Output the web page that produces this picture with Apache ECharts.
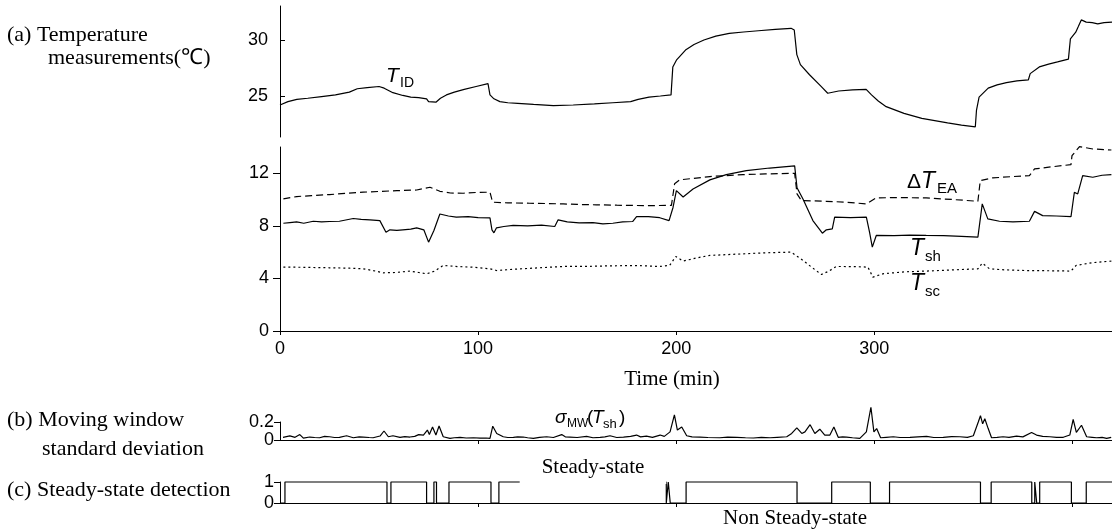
<!DOCTYPE html>
<html><head><meta charset="utf-8">
<script src="https://cdn.jsdelivr.net/npm/echarts@6/dist/echarts.min.js"></script>
<style>html,body{margin:0;padding:0;background:#fff}#c{width:1112px;height:532px}</style>
</head><body><div id="c"></div>
<script>
// ---- data: [time (min), value] ----
const tID = [[0,24.2],[1,24.3],[4,24.5],[8.5,24.7],[14,24.8],[21,24.95],[28,25.1],[35,25.35],[39,25.65],[44,25.75],[50,25.85],[52.6,25.7],[57,25.3],[62,25.05],[66,24.9],[70,24.85],[74,24.75],[75,24.5],[78.7,24.45],[81,24.8],[84,25.1],[88,25.35],[93,25.6],[99,25.85],[105,26.1],[106,25.1],[108,24.75],[111,24.5],[115,24.4],[120,24.35],[128,24.25],[138,24.15],[148,24.2],[158.7,24.3],[168,24.4],[177,24.5],[180.8,24.7],[186.3,24.9],[192,25.0],[197.4,25.1],[198.3,27.6],[200.1,28.2],[204.7,29.1],[209,29.6],[214,30.0],[220,30.35],[226.8,30.6],[234,30.72],[241.5,30.83],[250,30.95],[258,31.05],[259.6,30.9],[260.9,28.7],[262.7,27.8],[267.3,26.9],[272.9,25.9],[276.5,25.25],[282,25.45],[289,25.55],[295.9,25.6],[298.6,25.1],[302,24.55],[306,24.05],[315,23.45],[324,23.0],[337,22.6],[344,22.4],[351,22.25],[351.6,23.75],[352.9,24.9],[357.5,25.7],[362,26.0],[366.7,26.2],[372,26.35],[377.8,26.45],[378.7,27.0],[383.3,27.6],[388,27.85],[392.5,28.05],[398,28.3],[399,30.1],[401.7,30.7],[403,31.2],[404.5,31.8],[407,31.6],[410,31.55],[412.8,31.45],[416,31.55],[420,31.6]];
const tSH = [[1.7,8.2],[5,8.25],[8.4,8.3],[12,8.2],[16.8,8.35],[21,8.3],[25,8.33],[30,8.35],[37,8.56],[41,8.5],[45.4,8.46],[50.4,8.4],[53.5,7.52],[55.5,7.7],[59,7.65],[62,7.7],[66,7.75],[69,7.85],[72.6,7.7],[75,6.76],[77.7,7.65],[80.7,8.9],[85,8.75],[89,8.66],[95,8.7],[100,8.62],[106,8.6],[107,7.7],[108,7.47],[109.3,7.85],[113,7.95],[117.7,8.03],[125,8.0],[132,8.05],[138.7,7.95],[140.4,8.46],[145,8.3],[151,8.23],[158,8.25],[163,8.15],[168,8.2],[173,8.3],[178,8.33],[180,8.7],[186,8.7],[191.7,8.62],[196.4,8.4],[198.4,9.4],[200.1,10.68],[203.5,10.2],[208.5,10.8],[217,11.5],[225.3,11.9],[235.4,12.2],[247.2,12.4],[259.8,12.56],[261,10.9],[264,10.05],[269,8.4],[273.8,7.44],[275.8,7.7],[278.8,7.77],[280,8.66],[288,8.62],[296,8.66],[297.6,7.52],[299,6.38],[301,7.27],[310,7.25],[318,7.3],[326.2,7.27],[335,7.25],[344,7.2],[352.3,7.14],[354.5,9.67],[357.3,8.53],[363.2,8.35],[370,8.3],[378.3,8.35],[380.9,9.1],[385,8.78],[392,8.75],[399.3,8.7],[401,10.56],[402.7,10.43],[405.2,11.82],[410.3,11.7],[415,11.85],[419.7,11.9]];
const dTEA = [[1.7,10.05],[8.4,10.23],[16,10.3],[25,10.38],[34,10.48],[42,10.56],[50,10.62],[59,10.68],[69,10.73],[75.7,10.94],[80.7,10.63],[86,10.5],[92.5,10.48],[100,10.55],[106,10.56],[107.3,9.8],[115,9.75],[126,9.72],[135,9.7],[143,9.67],[150,9.63],[159.7,9.6],[170,9.57],[185,9.54],[197.6,9.56],[199.2,11.2],[201.8,11.5],[217,11.75],[233.7,11.9],[245,11.95],[259.8,12.0],[261,10.43],[263.2,9.92],[275.8,9.87],[286,9.8],[296,9.67],[301,10.13],[312,10.15],[326.2,10.13],[340,10.0],[352.3,9.87],[353.5,11.44],[359.8,11.65],[370,11.75],[378.3,11.82],[380.9,12.33],[390,12.5],[399.3,12.66],[399.8,13.34],[403.6,14.03],[410.3,13.85],[419.7,13.77]];
const tSC = [[1.7,4.86],[10,4.85],[25,4.81],[35,4.78],[42,4.73],[47,4.6],[52,4.43],[58,4.45],[65.6,4.56],[70,4.45],[74,4.35],[78,4.55],[82.4,4.99],[90,4.9],[98,4.85],[106,4.73],[109.3,4.6],[118,4.7],[130,4.8],[143,4.91],[155,4.92],[168,4.96],[180,4.98],[191.7,4.91],[196.7,4.99],[199.8,5.67],[203.5,5.32],[210,5.55],[217,5.75],[233.7,5.87],[245,5.95],[258,6.0],[264,5.37],[268,4.9],[273.3,4.3],[277,4.55],[280.8,4.91],[290,4.9],[296.8,4.86],[299.3,4.1],[304.3,4.35],[315,4.5],[326.2,4.56],[340,4.65],[352.3,4.73],[354.5,5.16],[358.2,4.73],[366,4.65],[376.6,4.6],[390,4.58],[399.3,4.56],[401.9,4.99],[410,5.2],[419.7,5.32]];
const sigmaMW = [[1.5,0.03],[2.5,0.03],[5,0.045],[7.6,0.03],[10,0.06],[11.8,0.02],[15,0.033],[17.5,0.028],[20,0.025],[22.5,0.04],[25,0.036],[27.5,0.028],[30,0.03],[33.6,0.047],[37,0.025],[40,0.035],[42,0.033],[45,0.028],[47,0.025],[50.5,0.044],[52.5,0.1],[54.7,0.036],[57,0.047],[60.6,0.03],[63,0.038],[65.6,0.033],[68,0.04],[70,0.06],[72.4,0.055],[74.4,0.11],[75.4,0.06],[77,0.145],[78.7,0.055],[80.3,0.156],[82.4,0.036],[85.8,0.018],[88,0.025],[90.9,0.03],[94,0.022],[97.6,0.025],[101,0.02],[104,0.022],[106,0.018],[107.4,0.153],[109.4,0.073],[112.7,0.036],[115,0.028],[117.8,0.03],[120,0.035],[122.8,0.033],[125,0.025],[127.9,0.018],[131,0.03],[134.6,0.036],[138,0.028],[142.2,0.06],[144,0.035],[146.4,0.033],[150,0.028],[154.8,0.04],[158,0.025],[161.6,0.03],[164,0.035],[166.6,0.047],[170,0.028],[173.4,0.033],[177,0.04],[180,0.055],[182,0.035],[185,0.044],[188,0.03],[191.9,0.055],[194,0.04],[196.9,0.09],[199.1,0.28],[200.6,0.11],[202.8,0.145],[205.3,0.047],[208,0.035],[212,0.033],[216,0.028],[222,0.025],[226,0.032],[230.6,0.03],[235,0.025],[239,0.022],[243,0.03],[247.4,0.025],[251,0.03],[255.8,0.036],[258.3,0.073],[260.9,0.135],[263.4,0.073],[265,0.09],[267.6,0.17],[270,0.073],[272.5,0.12],[275,0.055],[277.6,0.055],[279.6,0.145],[281.8,0.03],[284,0.035],[286,0.033],[289,0.025],[292.7,0.018],[296,0.09],[298.3,0.364],[299.8,0.09],[301.2,0.127],[303.2,0.025],[306,0.03],[309.6,0.036],[313,0.028],[318,0.03],[322,0.035],[326.4,0.04],[330,0.028],[334.8,0.03],[339,0.038],[343.2,0.036],[347,0.03],[350,0.047],[352.5,0.2],[353.6,0.27],[354.7,0.18],[355.8,0.236],[357.5,0.127],[359.2,0.025],[362,0.03],[365,0.036],[368,0.03],[371.8,0.044],[375,0.035],[379.4,0.084],[381.9,0.055],[385,0.04],[388.6,0.036],[392,0.03],[395.4,0.03],[398.7,0.055],[400.4,0.23],[402,0.084],[404.6,0.164],[407.2,0.036],[410,0.03],[412.2,0.025],[415,0.03],[417.3,0.018],[419.6,0.03]];
// steady-state flag: [time where state begins, state]
const steady = [[0,0],[2.5,1],[54,0],[56,1],[74,0],[77.7,1],[79,0],[85.3,1],[106.5,0],[110.5,1],[195,0],[196,1],[197,0],[205,1],[261,0],[278.5,1],[298,0],[307.7,1],[353.6,0],[359,1],[379.5,0],[381,1],[382,0],[383.5,1],[399.5,0],[407,1],[420,1]];
const xTicks = [0,100,200,300,400];
const sigXTicks = [100,200,300,400];
const ssXTicks = [100,200,400];
const tidTicks = [25,30];
const midTicks = [0,4,8,12];
const sigTicks = [0,0.2];
const ssTicks = [0,1];

const SANS='"Liberation Sans", Arial, sans-serif';
const SERIF='"Liberation Serif", "Times New Roman", serif';
const BLACK='#000';

function xAx(gi, show, ticks, labels){
  return {gridIndex:gi, type:'value', min:0, max:420, show:show,
    axisLine:{show:true,onZero:false,lineStyle:{color:BLACK,width:1}},
    axisTick:{show:!!ticks,inside:false,length:4,customValues:ticks||[],lineStyle:{color:BLACK,width:1}},
    axisLabel:{show:!!labels,customValues:labels||[],margin:9,color:BLACK,fontSize:18,fontFamily:SANS,showMaxLabel:false},
    splitLine:{show:false}};
}
function yAx(gi,min,max,ticks,inside,len,margin,fmt){
  return {gridIndex:gi,type:'value',min:min,max:max,
    axisLine:{show:true,onZero:false,lineStyle:{color:BLACK,width:1}},
    axisTick:{show:true,inside:inside,length:len,customValues:ticks,lineStyle:{color:BLACK,width:1}},
    axisLabel:{show:true,customValues:ticks,margin:margin,color:BLACK,fontSize:18,fontFamily:SANS,formatter:fmt||(v=>String(v))},
    splitLine:{show:false}};
}
function line(data,xi,type,extra){
  return Object.assign({type:'line',data:data,xAxisIndex:xi,yAxisIndex:xi,symbol:'none',showSymbol:false,
    lineStyle:{color:BLACK,width:1.2,type:type||'solid'},silent:true,clip:false,animation:false},extra||{});
}
function txt(x,y,s,font,extra){
  return Object.assign({type:'text',x:x,y:y,z:100,style:Object.assign({text:s,font:font,fill:BLACK,
    align:'left',verticalAlign:'middle',textAlign:'left',textVerticalAlign:'middle'},extra||{})});
}
const ital = (n)=>'italic '+n+'px '+SANS;
const sans = (n)=>n+'px '+SANS;
const serif = (n)=>n+'px '+SERIF;

const option = {
  animation:false,
  backgroundColor:'#fff',
  grid:[
    {left:280,right:0,top:6,height:131},
    {left:280,right:0,top:147,height:184},
    {left:280,right:0,top:422,height:18},
    {left:280,right:0,top:482,height:21}
  ],
  xAxis:[xAx(0,false,null,null), xAx(1,true,xTicks,xTicks), xAx(2,true,sigXTicks,null), xAx(3,true,ssXTicks,null)],
  yAxis:[
    yAx(0,21.34,33.04,tidTicks,true,5,12),
    yAx(1,0,14,midTicks,false,7,11),
    yAx(2,0,0.2,sigTicks,false,6,6),
    yAx(3,0,1,ssTicks,false,6,6)
  ],
  series:[
    line(tID,0),
    line(dTEA,1,[7,4]),
    line(tSH,1),
    line(tSC,1,[2,3]),
    line(sigmaMW,2),
    line(steady,3,'solid',{step:'end'})
  ],
  graphic:[
    txt(7,35,'(a) Temperature',serif(22)),
    txt(48,58,'measurements(℃)',serif(22)),
    txt(7,420,'(b) Moving window',serif(22)),
    txt(42,449,'standard deviation',serif(22)),
    txt(7,490,'(c) Steady-state detection',serif(22)),
    txt(672,379,'Time (min)',serif(21),{align:'center',textAlign:'center'}),
    txt(593,467,'Steady-state',serif(21),{align:'center',textAlign:'center',backgroundColor:'#fff',padding:[4,22,9,22]}),
    txt(795,518,'Non Steady-state',serif(21),{align:'center',textAlign:'center'}),
    // T_ID
    txt(386,76,'T',ital(21)), txt(400,83,'ID',sans(14)),
    // ΔT_EA
    txt(907,182,'Δ',sans(21)), txt(921,182,'T',ital(23)), txt(937,189,'EA',sans(15)),
    // T_sh
    txt(910,249,'T',ital(23)), txt(925,257,'sh',sans(15)),
    // T_sc
    txt(910,284,'T',ital(23)), txt(925,292,'sc',sans(15)),
    // σ_MW(T_sh)
    txt(555,418,'σ',ital(19)), txt(567,424,'MW',sans(12)), txt(587,418,'(',sans(19)),
    txt(592,418,'T',ital(19)), txt(603,424,'sh',sans(13)), txt(619,418,')',sans(19))
  ]
};
const chart = echarts.init(document.getElementById('c'),null,{renderer:'canvas'});
chart.setOption(option);
</script>
</body></html>
